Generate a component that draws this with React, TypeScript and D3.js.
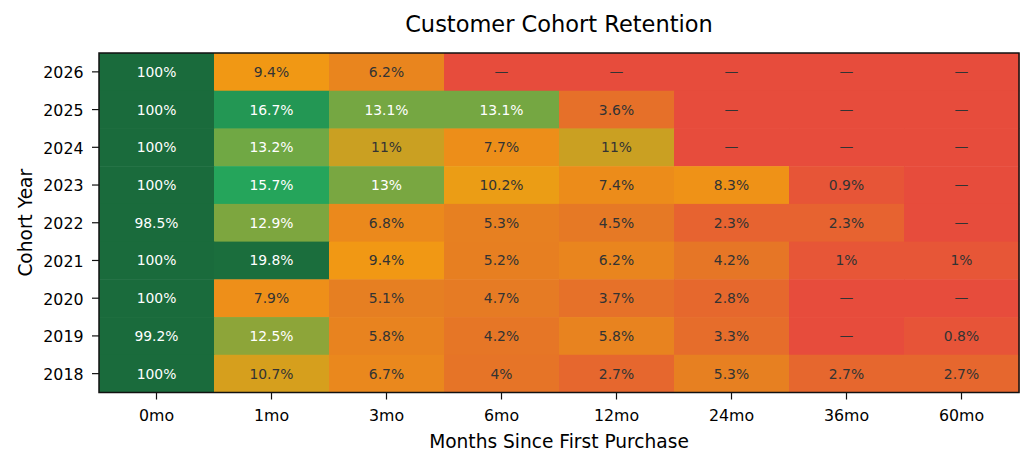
import React from "react";
import * as d3 from "d3";

const cohorts = ["2026", "2025", "2024", "2023", "2022", "2021", "2020", "2019", "2018"];
const periods = ["0mo", "1mo", "3mo", "6mo", "12mo", "24mo", "36mo", "60mo"];

// retention % per cohort row, null where the period hasn't happened yet
const r2026 = [100, 9.4, 6.2, null, null, null, null, null];
const r2025 = [100, 16.7, 13.1, 13.1, 3.6, null, null, null];
const r2024 = [100, 13.2, 11, 7.7, 11, null, null, null];
const r2023 = [100, 15.7, 13, 10.2, 7.4, 8.3, 0.9, null];
const r2022 = [98.5, 12.9, 6.8, 5.3, 4.5, 2.3, 2.3, null];
const r2021 = [100, 19.8, 9.4, 5.2, 6.2, 4.2, 1, 1];
const r2020 = [100, 7.9, 5.1, 4.7, 3.7, 2.8, null, null];
const r2019 = [99.2, 12.5, 5.8, 4.2, 5.8, 3.3, null, 0.8];
const r2018 = [100, 10.7, 6.7, 4, 2.7, 5.3, 2.7, 2.7];

const rows: (number | null)[][] = [r2026, r2025, r2024, r2023, r2022, r2021, r2020, r2019, r2018];

const W = 1034;
const H = 467;
const margin = { top: 53, right: 15, bottom: 74.5, left: 99 };
const font = "DejaVu Sans";

const fmt = (v: number) => `${+v.toFixed(1)}%`;

const App = () => {
    const x = d3
        .scaleBand()
        .domain(periods)
        .range([margin.left, W - margin.right]);
    const y = d3
        .scaleBand()
        .domain(cohorts)
        .range([margin.top, H - margin.bottom]);
    // red -> orange -> green, saturating at 20%
    const color = d3
        .scaleLinear<string>()
        .domain([0, 5, 10, 15, 20])
        .range(["#e74c3c", "#e67e22", "#f39c12", "#27ae60", "#1a6b3c"])
        .clamp(true);

    const cells = rows.flatMap((row, i) =>
        row.map((v, j) => ({ cohort: cohorts[i], period: periods[j], v }))
    );
    const x0 = margin.left;
    const x1 = W - margin.right;
    const y0 = margin.top;
    const y1 = H - margin.bottom;

    return (
        <svg
            width={W}
            height={H}
            style={{ position: "absolute", left: 0, top: 0, background: "#fff" }}
            fontFamily={font}
        >
            <text x={(x0 + x1) / 2} y={32} textAnchor="middle" fontSize={22.5} fill="#000">
                Customer Cohort Retention
            </text>
            {cells.map((c, i) => {
                const cx = x(c.period)!;
                const cy = y(c.cohort)!;
                const light = c.v !== null && c.v > 12;
                return (
                    <g key={i}>
                        <rect
                            x={cx}
                            y={cy}
                            width={x.bandwidth() + 0.5}
                            height={y.bandwidth() + 0.5}
                            fill={color(c.v ?? 0)}
                        />
                        <text
                            x={cx + x.bandwidth() / 2}
                            y={cy + y.bandwidth() / 2}
                            dy="0.36em"
                            textAnchor="middle"
                            fontSize={13.9}
                            fill={light ? "#fff" : "#333"}
                        >
                            {c.v === null ? "—" : fmt(c.v)}
                        </text>
                    </g>
                );
            })}
            <rect x={x0} y={y0} width={x1 - x0} height={y1 - y0} fill="none" stroke="#111" strokeWidth={1.5} />
            {periods.map((p) => {
                const px = x(p)! + x.bandwidth() / 2;
                return (
                    <g key={p}>
                        <line x1={px} x2={px} y1={y1} y2={y1 + 7} stroke="#111" strokeWidth={1.2} />
                        <text x={px} y={421} textAnchor="middle" fontSize={15.8} fill="#000">
                            {p}
                        </text>
                    </g>
                );
            })}
            {cohorts.map((c) => {
                const py = y(c)! + y.bandwidth() / 2;
                return (
                    <g key={c}>
                        <line x1={x0 - 7} x2={x0} y1={py} y2={py} stroke="#111" strokeWidth={1.2} />
                        <text x={x0 - 15.5} y={py} dy="0.4em" textAnchor="end" fontSize={15.8} fill="#000">
                            {c}
                        </text>
                    </g>
                );
            })}
            <text x={(x0 + x1) / 2} y={448} textAnchor="middle" fontSize={18.6} fill="#000">
                Months Since First Purchase
            </text>
            <text
                transform={`translate(32,${(y0 + y1) / 2}) rotate(-90)`}
                textAnchor="middle"
                fontSize={18.6}
                fill="#000"
            >
                Cohort Year
            </text>
        </svg>
    );
};

export default App;
